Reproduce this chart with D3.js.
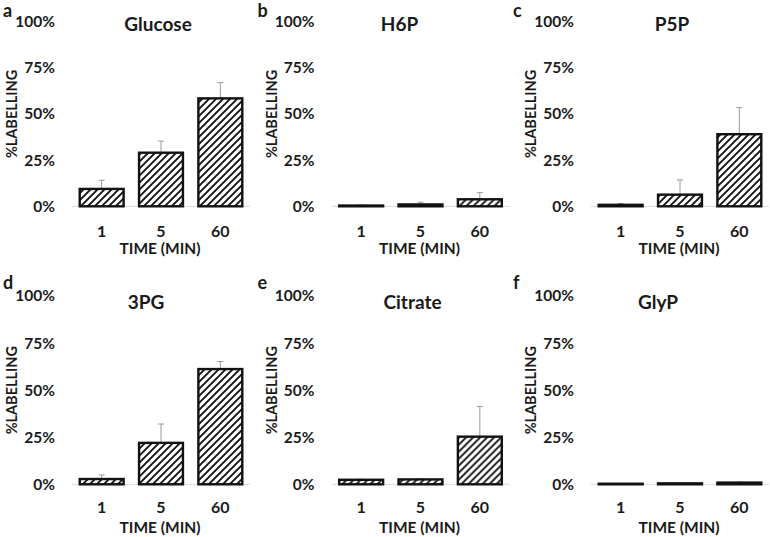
<!DOCTYPE html>
<html>
<head>
<meta charset="utf-8">
<script src="https://cdn.jsdelivr.net/npm/d3@7"></script>
<style>
  html, body { margin: 0; padding: 0; background: #fff; }
  svg { display: block; }
  text { font-family: Lato, "Open Sans", sans-serif; fill: #1a1a1a; }
</style>
</head>
<body>
<svg id="chart" width="770" height="537"></svg>
<script>
// ---- data ----
const categories = ["1", "5", "60"];
const panelLetters = ["a", "b", "c", "d", "e", "f"];
const panelTitles = ["Glucose", "H6P", "P5P", "3PG", "Citrate", "GlyP"];
const glucoseVals = [9.4, 29, 58.4];
const glucoseErr  = [4.7, 6.3, 8.5];
const h6pVals     = [0.4, 1.0, 3.8];
const h6pErr      = [0.3, 1.2, 3.6];
const p5pVals     = [0.8, 6.3, 39];
const p5pErr      = [0.7, 8.0, 14.4];
const pg3Vals     = [2.8, 22, 61.2];
const pg3Err      = [2.1, 10, 4];
const citrateVals = [2.4, 2.6, 25.3];
const citrateErr  = [0.3, 0.3, 16];
const glypVals    = [0.3, 0.5, 0.9];
const glypErr     = [0.1, 0.1, 0.3];
const yTicks = [0, 25, 50, 75, 100];
const yAxisTitle = "%LABELLING";
const xAxisTitle = "TIME (MIN)";

const seriesVals = [glucoseVals, h6pVals, p5pVals, pg3Vals, citrateVals, glypVals];
const seriesErr  = [glucoseErr, h6pErr, p5pErr, pg3Err, citrateErr, glypErr];

// ---- layout ----
const colOffset = [0, 259.5, 519];
const rowGeom = [
  { y0: 206.3, y100: 21.5, titleY: 31, letterY: 17, tickC: 231, xTitleY: 254 },
  { y0: 484.3, y100: 296, titleY: 309, letterY: 289, tickC: 507.5, xTitleY: 533 }
];
const titleDx = [-3, -21, -8, -15, -8, -22];
const letterX = [3, -2, -6];

const svg = d3.select("#chart");

// hatch pattern
const P = 7;
const defs = svg.append("defs");
const pat = defs.append("pattern")
  .attr("id", "hatch")
  .attr("patternUnits", "userSpaceOnUse")
  .attr("width", P).attr("height", P);
pat.append("rect").attr("width", P).attr("height", P).attr("fill", "#fff");
pat.append("path")
  .attr("d", `M-1,1 L1,-1 M0,${P} L${P},0 M${P-1},${P+1} L${P+1},${P-1}`)
  .attr("stroke", "#111").attr("stroke-width", 1.9);

panelTitles.forEach((title, i) => {
  const col = i % 3, row = Math.floor(i / 3);
  const ox = colOffset[col];
  const rg = rowGeom[row];
  const g = svg.append("g").attr("transform", `translate(${ox},0)`);

  const x = d3.scaleBand().domain(categories).range([72, 250])
    .paddingInner(0.26).paddingOuter(0.13);
  const y = d3.scaleLinear().domain([0, 100]).range([rg.y0, rg.y100]);

  // baseline
  g.append("line")
    .attr("x1", x.range()[0]).attr("x2", x.range()[1])
    .attr("y1", y(0)).attr("y2", y(0))
    .attr("stroke", "#d9d9d9").attr("stroke-width", 1);

  // y tick labels
  const yAxis = d3.axisLeft(y).tickValues(yTicks).tickFormat(d => d + "%").tickSize(0).tickPadding(0);
  const ya = g.append("g").attr("transform", "translate(55,0)").call(yAxis);
  ya.select(".domain").remove();
  ya.selectAll("text")
    .style("font-family", "Lato, 'Open Sans', sans-serif")
    .style("font-weight", "bold").style("font-size", "15.5px").attr("fill", "#1a1a1a");

  // x tick labels
  const xAxis = d3.axisBottom(x).tickSize(0).tickPadding(0);
  const xa = g.append("g").attr("transform", `translate(0,${rg.tickC})`).call(xAxis);
  xa.select(".domain").remove();
  xa.selectAll("text")
    .style("font-family", "Lato, 'Open Sans', sans-serif")
    .style("font-weight", "bold").style("font-size", "16px").attr("fill", "#1a1a1a")
    .attr("y", 0).attr("dy", "0.36em");

  const vals = seriesVals[i], errs = seriesErr[i];
  const data = categories.map((c, k) => ({ c, v: vals[k], e: errs[k] }));

  // error bars (upper only)
  const eb = g.append("g").attr("stroke", "#9a9a9a").attr("stroke-width", 1);
  eb.selectAll("line.v").data(data).join("line")
    .attr("x1", d => x(d.c) + x.bandwidth() / 2).attr("x2", d => x(d.c) + x.bandwidth() / 2)
    .attr("y1", d => y(d.v)).attr("y2", d => y(d.v + d.e));
  eb.selectAll("line.cap").data(data).join("line")
    .attr("x1", d => x(d.c) + x.bandwidth() / 2 - 3).attr("x2", d => x(d.c) + x.bandwidth() / 2 + 3)
    .attr("y1", d => y(d.v + d.e)).attr("y2", d => y(d.v + d.e));

  // bars
  g.selectAll("rect.bar").data(data).join("rect")
    .attr("class", "bar")
    .attr("x", d => x(d.c)).attr("width", x.bandwidth())
    .attr("y", d => y(d.v)).attr("height", d => y(0) - y(d.v))
    .attr("fill", "url(#hatch)")
    .attr("stroke", "#111").attr("stroke-width", 2.4);

  // title
  g.append("text")
    .attr("x", (x.range()[0] + x.range()[1]) / 2 + titleDx[i]).attr("y", rg.titleY)
    .attr("text-anchor", "middle")
    .style("font-size", "19px").style("font-weight", "bold")
    .text(title);

  // y axis title
  g.append("text")
    .attr("transform", `translate(17,${(rg.y0 + rg.y100) / 2}) rotate(-90)`)
    .attr("text-anchor", "middle")
    .style("font-size", "14.5px").style("font-weight", "bold")
    .text(yAxisTitle);

  // x axis title
  g.append("text")
    .attr("x", 160).attr("y", rg.xTitleY)
    .attr("text-anchor", "middle")
    .style("font-size", "15.5px").style("font-weight", "bold")
    .text(xAxisTitle);

  // panel letter
  g.append("text")
    .attr("x", letterX[col]).attr("y", rg.letterY)
    .style("font-size", "18px").style("font-weight", "bold")
    .text(panelLetters[i]);
});
</script>
</body>
</html>
